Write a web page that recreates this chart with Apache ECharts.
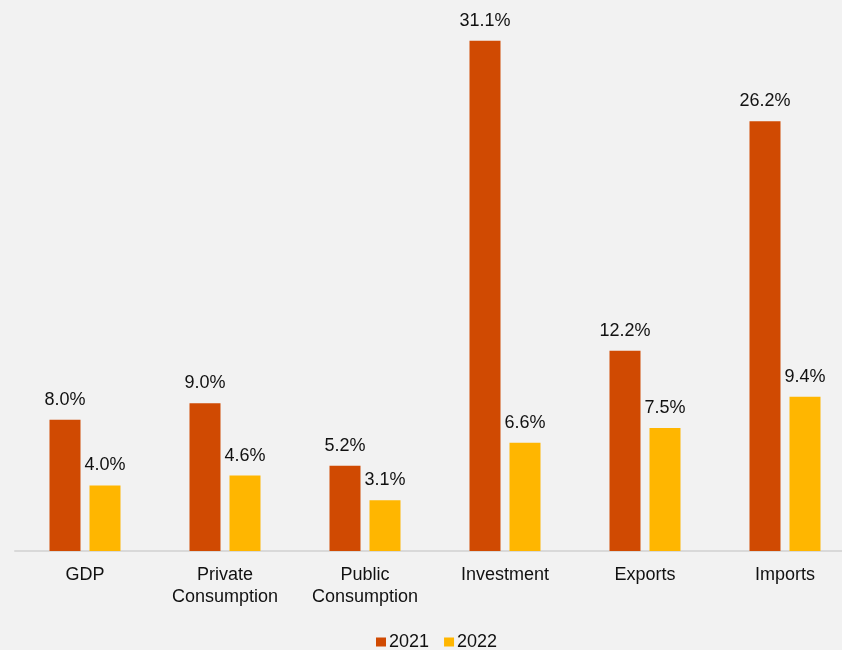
<!DOCTYPE html>
<html>
<head>
<meta charset="utf-8">
<script src="https://cdn.jsdelivr.net/npm/echarts@6/dist/echarts.min.js"></script>
<style>
  html, body { margin: 0; padding: 0; background: #f2f2f2; overflow: hidden; }
  /* the category axis runs past the right edge of the page */
  #chart { width: 860px; height: 650px; }
</style>
</head>
<body>
<div id="chart"></div>
<script>
// Real growth rates by expenditure component
const categories = ['GDP', 'Private\nConsumption', 'Public\nConsumption', 'Investment', 'Exports', 'Imports'];
const growth2021 = [8.0, 9.0, 5.2, 31.1, 12.2, 26.2];
const growth2022 = [4.0, 4.6, 3.1, 6.6, 7.5, 9.4];
const seriesNames = ['2021', '2022'];

const FONT = 'Liberation Sans, Arial, sans-serif';
const chart = echarts.init(document.getElementById('chart'));

const labelStyle = {
  show: true,
  position: 'top',
  distance: 11,
  fontFamily: FONT,
  fontSize: 18,
  color: '#111111',
  formatter: p => p.value.toFixed(1) + '%'
};

chart.setOption({
  backgroundColor: '#f2f2f2',
  animation: false,
  grid: { left: 15, top: 26, width: 840, bottom: 99 },
  legend: {
    data: seriesNames,
    top: 633,
    left: 376,
    padding: 0,
    itemWidth: 10,
    itemHeight: 9,
    itemGap: 15,
    icon: 'rect',
    textStyle: { fontFamily: FONT, fontSize: 18, color: '#111111', padding: [0, 0, 0, -2] }
  },
  xAxis: {
    type: 'category',
    data: categories,
    axisLine: { lineStyle: { color: '#d9d9d9', width: 2 } },
    axisTick: { show: false },
    axisLabel: {
      margin: 13,
      fontFamily: FONT,
      fontSize: 18,
      lineHeight: 22,
      color: '#111111',
      interval: 0
    }
  },
  yAxis: {
    type: 'value',
    min: 0,
    max: 32,
    show: false,
    splitLine: { show: false }
  },
  series: [
    {
      name: seriesNames[0],
      type: 'bar',
      data: growth2021,
      barWidth: 31,
      barGap: '29%',
      itemStyle: { color: '#d04a02' },
      label: labelStyle
    },
    {
      name: seriesNames[1],
      type: 'bar',
      data: growth2022,
      barWidth: 31,
      barGap: '29%',
      itemStyle: { color: '#ffb600' },
      label: labelStyle
    }
  ]
});
</script>
</body>
</html>
